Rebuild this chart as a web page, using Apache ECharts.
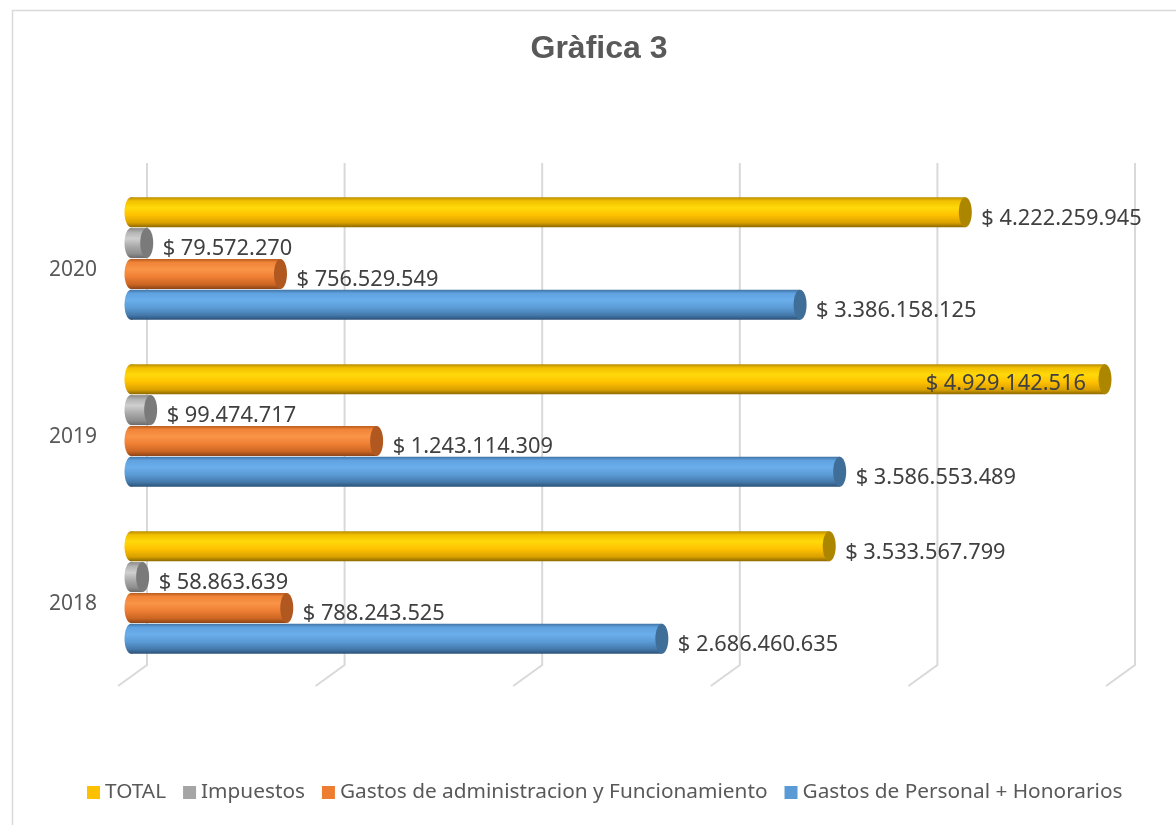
<!DOCTYPE html>
<html><head><meta charset="utf-8">
<script src="https://cdn.jsdelivr.net/npm/echarts@6/dist/echarts.min.js"></script>
<style>html,body{margin:0;padding:0;background:#fff}#c{width:1176px;height:825px}</style>
</head><body><div id="c"></div>
<script>
const categories = ['2018', '2019', '2020'];
const totalVals = [3533567799, 4929142516, 4222259945];
const impuestosVals = [58863639, 99474717, 79572270];
const adminVals = [788243525, 1243114309, 756529549];
const personalVals = [2686460635, 3586553489, 3386158125];
const seriesNames = ['TOTAL', 'Impuestos', 'Gastos de administracion y Funcionamiento', 'Gastos de Personal + Honorarios'];
const valueTicks = [0, 1e9, 2e9, 3e9, 4e9, 5e9];

const palettes = [
  { base: '#FFC000', cap: '#AD8600', stops: [
    {offset: 0, color: '#B88C00'}, {offset: 0.12, color: '#F2C000'}, {offset: 0.35, color: '#FFD90A'},
    {offset: 0.6, color: '#FFC000'}, {offset: 0.85, color: '#D9A000'}, {offset: 1, color: '#8A6800'}]},
  { base: '#A5A5A5', cap: '#7A7A7A', stops: [
    {offset: 0, color: '#8A8A8A'}, {offset: 0.15, color: '#B5B5B5'}, {offset: 0.35, color: '#CFCFCF'},
    {offset: 0.6, color: '#ABABAB'}, {offset: 0.85, color: '#8E8E8E'}, {offset: 1, color: '#6A6A6A'}]},
  { base: '#ED7D31', cap: '#B0581F', stops: [
    {offset: 0, color: '#B85A1E'}, {offset: 0.12, color: '#F08438'}, {offset: 0.35, color: '#FA9448'},
    {offset: 0.6, color: '#EE7F33'}, {offset: 0.85, color: '#CC6624'}, {offset: 1, color: '#8E4516'}]},
  { base: '#5B9BD5', cap: '#3F6E99', stops: [
    {offset: 0, color: '#3F72A3'}, {offset: 0.12, color: '#5FA2DF'}, {offset: 0.35, color: '#6AAEEB'},
    {offset: 0.6, color: '#5B9BD5'}, {offset: 0.85, color: '#4479AB'}, {offset: 1, color: '#2C5177'}]}
];
const valueSets = [totalVals, impuestosVals, adminVals, personalVals];
const FONT = '"Noto Sans", "Open Sans", sans-serif';

function fmt(v) {
  return '$ ' + String(v).replace(/\B(?=(\d{3})+(?!\d))/g, '.');
}

function makeRender(sIdx) {
  const pal = palettes[sIdx];
  return function (params, api) {
    const val = api.value(0), cat = api.value(1);
    const p0 = api.coord([0, cat]);
    const p1 = api.coord([val, cat]);
    const slot = 30.8, h = 30, rx = 6.5;
    const yc = p0[1] + (sIdx - 1.5) * slot;
    const x0 = p0[0], x1 = p1[0];
    const grad = {type: 'linear', x: 0, y: 0, x2: 0, y2: 1, colorStops: pal.stops};
    const children = [
      {type: 'ellipse', shape: {cx: x0, cy: yc, rx: rx, ry: h / 2}, style: {fill: grad}},
      {type: 'rect', shape: {x: x0, y: yc - h / 2, width: Math.max(0, x1 - x0), height: h}, style: {fill: grad}},
      {type: 'ellipse', shape: {cx: x1, cy: yc, rx: rx, ry: h / 2}, style: {fill: pal.cap}}
    ];
    const txt = fmt(val);
    const inside = x1 + 195 > api.getWidth();
    children.push({
      type: 'text', z2: 10,
      style: {
        text: txt,
        x: inside ? x1 - 19 : x1 + 16,
        y: yc + (inside ? 4 : 6),
        align: inside ? 'right' : 'left',
        verticalAlign: 'middle',
        fill: '#404040',
        fontSize: 21.8,
        fontFamily: FONT
      }
    });
    return {type: 'group', children: children};
  };
}

const series = [{
  type: 'custom',
  name: '__grid',
  silent: true,
  z: 1,
  data: valueTicks.map(v => [v, 0]),
  encode: {x: 0, y: 1},
  renderItem: function (params, api) {
    const cs = params.coordSys;
    const x = api.coord([api.value(0), 0])[0];
    const top = cs.y - 12, bot = cs.y + cs.height;
    return {
      type: 'polyline',
      shape: {points: [[x + 16, top], [x + 16, bot - 11], [x - 13, bot + 10]]},
      style: {stroke: '#D9D9D9', lineWidth: 2, fill: null}
    };
  }
}];
seriesNames.forEach((name, i) => {
  series.push({
    type: 'custom',
    name: name,
    z: 2,
    itemStyle: {color: palettes[i].base},
    data: valueSets[i].map((v, k) => [v, k]),
    encode: {x: 0, y: 1},
    renderItem: makeRender(i)
  });
});

const chart = echarts.init(document.getElementById('c'));
chart.setOption({
  backgroundColor: '#fff',
  animation: false,
  graphic: [{
    type: 'rect', left: 10, top: 8, shape: {x: 0, y: 0, width: 1200, height: 840},
    style: {fill: null, stroke: '#D9D9D9', lineWidth: 1.5}, silent: true
  }],
  title: {
    text: 'Gràfica 3', left: 594, top: 28, textAlign: 'center',
    textStyle: {fontSize: 32, fontWeight: 'bold', color: '#595959', fontFamily: '"Liberation Sans", Arial, sans-serif'}
  },
  legend: {
    data: seriesNames,
    left: 82, top: 777,
    icon: 'rect', itemWidth: 13, itemHeight: 13, itemGap: 17,
    textStyle: {fontSize: 20.8, color: '#595959', fontFamily: FONT}
  },
  grid: {left: 131, width: 988, top: 175, height: 501},
  xAxis: {
    type: 'value', min: 0, max: 5e9, interval: 1e9,
    axisLine: {show: false}, axisTick: {show: false}, axisLabel: {show: false}, splitLine: {show: false}
  },
  yAxis: {
    type: 'category', data: categories,
    axisLine: {show: false}, axisTick: {show: false}, splitLine: {show: false},
    axisLabel: {
      margin: 34, color: '#595959', fontSize: 21, fontFamily: FONT,
      formatter: v => '{a|' + v + '}',
      rich: {a: {fontSize: 21, color: '#595959', fontFamily: FONT, padding: [24, 0, 0, 0]}}
    }
  },
  series: series
});
</script></body></html>
